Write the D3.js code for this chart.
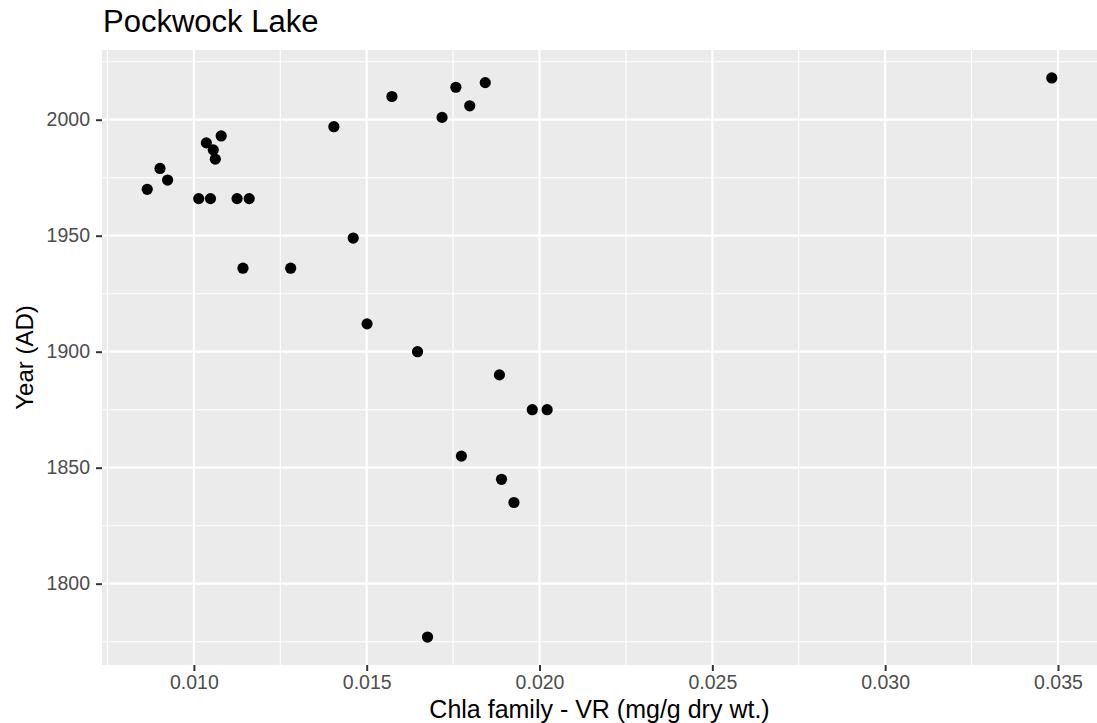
<!DOCTYPE html>
<html>
<head>
<meta charset="utf-8">
<script src="https://cdn.jsdelivr.net/npm/d3@7.9.0/dist/d3.min.js"></script>
<style>
  body { margin: 0; background: #fff; }
  text { font-family: "Liberation Sans", Arial, sans-serif; }
</style>
</head>
<body>
<svg id="chart" width="1097" height="723"></svg>
<script>
// Chla family - VR (mg/g dry wt.) vs year
const chla = [
  0.00865, 0.00902, 0.00924, 0.01014, 0.01048, 0.01125, 0.0116,
  0.01036, 0.01056, 0.01062, 0.01079, 0.01142, 0.0128, 0.01405,
  0.01461, 0.01573, 0.01718, 0.01758, 0.01798, 0.01843, 0.03482,
  0.01501, 0.01647, 0.01884, 0.01979, 0.02022, 0.01774, 0.0189,
  0.01926, 0.01676
];
const years = [
  1970, 1979, 1974, 1966, 1966, 1966, 1966,
  1990, 1987, 1983, 1993, 1936, 1936, 1997,
  1949, 2010, 2001, 2014, 2006, 2016, 2018,
  1912, 1900, 1890, 1875, 1875, 1855, 1845,
  1835, 1777
];
const xTicks = [0.010, 0.015, 0.020, 0.025, 0.030, 0.035];
const yTicks = [1800, 1850, 1900, 1950, 2000];

const titleText = 'Pockwock Lake';
const xTitle = 'Chla family - VR (mg/g dry wt.)';
const yTitle = 'Year (AD)';

const points = chla.map((v, i) => ({ x: v, y: years[i] }));

// panel box
const panelL = 102, panelR = 1097, panelT = 50, panelB = 665;

// ggplot style 5% expansion of the data range
function expand(ext) {
  const pad = (ext[1] - ext[0]) * 0.05;
  return [ext[0] - pad, ext[1] + pad];
}

const x = d3.scaleLinear().domain(expand(d3.extent(chla))).range([panelL, panelR]);
const y = d3.scaleLinear().domain(expand(d3.extent(years))).range([panelB, panelT]);

const svg = d3.select('#chart');

svg.append('rect')
  .attr('x', panelL).attr('y', panelT)
  .attr('width', panelR - panelL).attr('height', panelB - panelT)
  .attr('fill', '#ebebeb');

// minor grid halfway between majors
const xMinor = d3.range(0.0075, x.domain()[1], 0.005);
const yMinor = d3.range(1775, y.domain()[1], 50);

const grid = svg.append('g');
grid.selectAll('.xminor').data(xMinor).join('line')
  .attr('x1', d => x(d)).attr('x2', d => x(d))
  .attr('y1', panelT).attr('y2', panelB)
  .attr('stroke', '#fff').attr('stroke-width', 1.1);
grid.selectAll('.yminor').data(yMinor).join('line')
  .attr('x1', panelL).attr('x2', panelR)
  .attr('y1', d => y(d)).attr('y2', d => y(d))
  .attr('stroke', '#fff').attr('stroke-width', 1.1);
grid.selectAll('.xmajor').data(xTicks).join('line')
  .attr('x1', d => x(d)).attr('x2', d => x(d))
  .attr('y1', panelT).attr('y2', panelB)
  .attr('stroke', '#fff').attr('stroke-width', 2.2);
grid.selectAll('.ymajor').data(yTicks).join('line')
  .attr('x1', panelL).attr('x2', panelR)
  .attr('y1', d => y(d)).attr('y2', d => y(d))
  .attr('stroke', '#fff').attr('stroke-width', 2.2);

// axes
const xAxis = svg.append('g')
  .attr('transform', `translate(0,${panelB})`)
  .call(d3.axisBottom(x).tickValues(xTicks).tickFormat(d3.format('.3f'))
    .tickSize(6).tickPadding(4));
const yAxis = svg.append('g')
  .attr('transform', `translate(${panelL},0)`)
  .call(d3.axisLeft(y).tickValues(yTicks).tickFormat(d3.format('d'))
    .tickSize(6).tickPadding(6));

[xAxis, yAxis].forEach(ax => {
  ax.select('.domain').remove();
  ax.selectAll('.tick line').attr('stroke', '#333').attr('stroke-width', 2);
  ax.selectAll('.tick text')
    .attr('fill', '#4d4d4d')
    .style('font-size', '19.5px')
    .style('font-family', '"Liberation Sans", Arial, sans-serif');
});

// points
svg.append('g').selectAll('circle')
  .data(points)
  .join('circle')
  .attr('cx', d => x(d.x))
  .attr('cy', d => y(d.y))
  .attr('r', 5.6)
  .attr('fill', '#000');

// titles
svg.append('text')
  .attr('x', 103).attr('y', 32)
  .style('font-size', '31px')
  .attr('fill', '#000')
  .text(titleText);

svg.append('text')
  .attr('x', (panelL + panelR) / 2).attr('y', 718)
  .attr('text-anchor', 'middle')
  .style('font-size', '25px')
  .attr('fill', '#000')
  .text(xTitle);

svg.append('text')
  .attr('transform', `translate(33,${(panelT + panelB) / 2}) rotate(-90)`)
  .attr('text-anchor', 'middle')
  .style('font-size', '24px')
  .attr('fill', '#000')
  .text(yTitle);
</script>
</body>
</html>
